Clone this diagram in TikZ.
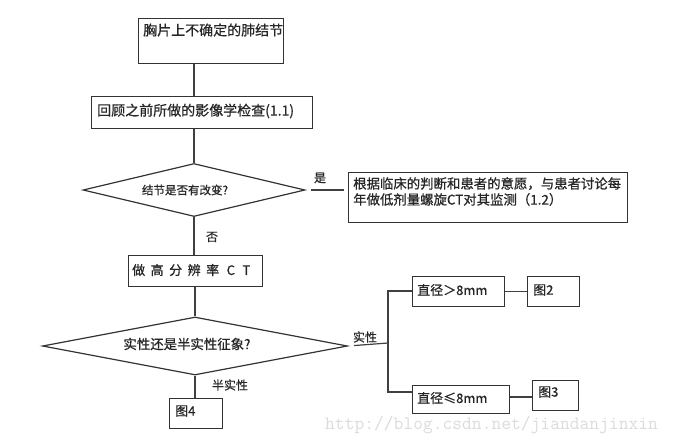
\documentclass[tikz,border=0pt]{standalone}
\usepackage{fontspec}
\setmainfont[FakeBold=0.7]{Noto Sans CJK SC}
\usetikzlibrary{shapes.geometric}
\tikzset{
  box/.style={draw=black!80, line width=1.2pt, rectangle, inner sep=0pt, anchor=north west},
  dia/.style={draw=black!80, line width=1.2pt, diamond, inner sep=0pt},
  txt/.style={inner sep=0pt, text=black!85, font=\fontsize{14}{17}\selectfont},
  stxt/.style={inner sep=0pt, text=black!85, font=\fontsize{12}{14}\selectfont},
  conn/.style={draw=black!75, line width=1.2pt},
}
\newcommand{\gp}{\hspace{5.5pt}}
\begin{document}
\begin{tikzpicture}[x=1pt,y=-1pt]
\useasboundingbox (0,0) rectangle (675,445);
% boxes
\node[box, minimum width=145pt, minimum height=45pt] (b1) at (138,18) {};
\node[txt, anchor=west] (t1) at (143,30) {胸片上不确定的肺结节};
\node[box, minimum width=221pt, minimum height=32pt] (b2) at (91,96) {};
\node[txt, anchor=west] (t2) at (97,111) {回顾之前所做的影像学检查(1.1)};
\node[dia, minimum width=222pt, minimum height=53pt] (d1) at (194,190) {};
\node[txt, anchor=center, font=\fontsize{11.5}{14}\selectfont] (t3) at (185,190) {结节是否有改变?};
\node[box, minimum width=279pt, minimum height=50pt] (b3) at (348,172) {};
\node[txt, anchor=north west, align=left, font=\fontsize{13.4}{16}\selectfont] (t4) at (353,177) {根据临床的判断和患者的意愿，与患者讨论每\\年做低剂量螺旋CT对其监测（1.2）};
\node[box, minimum width=134pt, minimum height=31pt] (b4) at (128,255) {};
\node[txt, anchor=west, font=\fontsize{13}{15}\selectfont] (t5) at (132,270) {做\gp 高\gp 分\gp 辨\gp 率\gp\hspace{2pt}C\gp\hspace{2pt}T};
\node[dia, minimum width=305pt, minimum height=58pt] (d2) at (195,346) {};
\node[txt, anchor=center, font=\fontsize{13.4}{16}\selectfont] (t6) at (187,344) {实性还是半实性征象?};
\node[box, minimum width=92pt, minimum height=30pt] (b5) at (412,276) {};
\node[txt, anchor=west, font=\fontsize{13}{15}\selectfont] (t7) at (417,290) {直径＞8mm};
\node[box, minimum width=52pt, minimum height=30pt] (b6) at (527,276) {};
\node[txt, anchor=west, font=\fontsize{13}{15}\selectfont] (t8) at (533,290) {图2};
\node[box, minimum width=97pt, minimum height=28pt] (b7) at (412,385) {};
\node[txt, anchor=west, font=\fontsize{13}{15}\selectfont] (t9) at (417,398) {直径≤8mm};
\node[box, minimum width=46pt, minimum height=30pt] (b8) at (532,380) {};
\node[txt, anchor=west, font=\fontsize{13}{15}\selectfont] (t10) at (538,392) {图3};
\node[box, minimum width=53pt, minimum height=30pt] (b9) at (169,398) {};
\node[txt, anchor=west, font=\fontsize{13}{15}\selectfont] (t11) at (175,411) {图4};
% labels
\node[stxt] (l1) at (320,178) {是};
\node[stxt] (l2) at (212,237) {否};
\node[stxt] (l3) at (365,337) {实性};
\node[stxt] (l4) at (230,385) {半实性};
% connectors
\coordinate (j) at (388,343);
\draw[conn] (b1.south -| d1.center) -- (b2.north -| d1.center);
\draw[conn] (b2.south -| d1.center) -- (d1.north);
\draw[conn, shorten <=5pt, shorten >=4pt] (d1.east) -- (d1.east -| b3.west);
\draw[conn] (d1.south) -- (b4.north -| d1.center);
\draw[conn] (b4.south -| d2.center) -- (d2.north);
\draw[conn, shorten <=6pt] (d2.east) -- (j);
\draw[conn] (b5.west |- 0,291) -- (388,291) -- (388,392) -- (b7.west |- 0,392);
\draw[conn] (b5.east) -- (b5.east -| b6.west);
\draw[conn] (b7.east |- 0,397) -- (b8.west |- 0,397);
\draw[conn] (d2.south) -- (b9.north -| d2.south);
% watermark
\node[inner sep=0pt, text=black!14, font=\ttfamily\fontsize{19}{20}\selectfont, anchor=west] (wm) at (325,425) {http://blog.csdn.net/jiandanjinxin};
\end{tikzpicture}
\end{document}
